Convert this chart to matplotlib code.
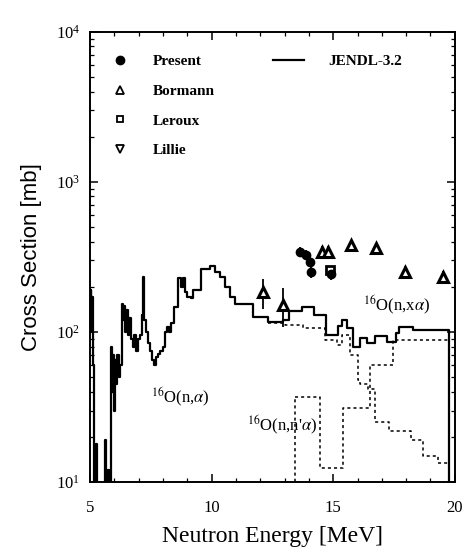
import numpy as np
import matplotlib
matplotlib.use('Agg')
import matplotlib.pyplot as plt
from matplotlib.lines import Line2D
from matplotlib.ticker import LogLocator, MultipleLocator

plt.rcParams['font.family'] = ['Liberation Serif', 'DejaVu Serif']
plt.rcParams['mathtext.fontset'] = 'stix'

# JENDL-3.2 16O(n,x alpha) total, step edges [MeV] and values [mb]
jendl_E = [5.00, 5.03, 5.06, 5.09, 5.12, 5.15, 5.25, 5.30, 5.60, 5.66, 5.75, 5.80,
           5.88, 5.92, 5.96, 6.00, 6.04, 6.08, 6.12, 6.18, 6.22, 6.30, 6.36, 6.40,
           6.45, 6.50, 6.56, 6.62, 6.68, 6.75, 6.82, 6.90, 6.96, 7.05, 7.12, 7.17,
           7.22, 7.30, 7.38, 7.45, 7.55, 7.65, 7.72, 7.80, 7.90, 8.00, 8.08, 8.15,
           8.25, 8.35, 8.45, 8.60, 8.75, 8.82, 8.90, 9.00, 9.15, 9.25, 9.55, 9.95,
           10.15, 10.35, 10.55, 10.75, 10.95, 11.70, 12.30, 12.55, 12.95, 13.20, 13.70,
           14.20, 14.70, 15.20, 15.35, 15.55, 15.80, 16.10, 16.40, 16.70, 17.20,
           17.60, 17.70, 18.30, 19.75]
jendl_v = [150, 190, 100, 170, 60, 5, 18, 5, 19, 5, 12, 5,
           79, 40, 70, 30, 65, 45, 70, 50, 60, 155, 120, 150,
           100, 140, 95, 125, 90, 80, 95, 75, 90, 95, 130, 232,
           120, 100, 85, 75, 65, 60, 68, 72, 75, 80, 100, 108,
           100, 115, 147, 230, 200, 230, 185, 170, 168, 190, 265, 275,
           250, 232, 200, 170, 155, 126, 117, 117, 120, 138, 147,
           130, 96, 110, 120, 106, 80, 92, 84, 94, 86,
           98, 108, 104, 1]

# 16O(n,alpha0) partial
na_E = [12.30, 13.00, 13.75, 14.65, 15.15, 15.35, 15.70, 16.00, 16.10, 16.45,
        16.70, 17.30, 18.20, 18.70, 19.30, 19.75]
na_v = [115, 112, 106, 88, 82, 95, 70, 48, 45, 42, 25, 22, 19, 15, 13.4, 1]

# 16O(n,n' alpha) partial
nna_E = [13.45, 14.45, 15.40, 16.50, 17.45, 19.75]
nna_v = [37, 12.4, 31, 60, 88, 1]

# experimental data
present_E = [13.63, 13.90, 14.04, 14.07, 14.93]
present_v = [343, 325, 293, 252, 243]
present_err = [25, 25, 22, 22, 20]

bormann_E = [12.12, 12.93, 14.52, 14.79, 15.75, 16.78, 17.95, 19.52]
bormann_v = [185, 152, 343, 343, 380, 363, 252, 233]
bormann_err = [42, 44, 30, 30, 32, 32, 25, 24]

leroux_E = [14.86]
leroux_v = [259]

lillie_E = []
lillie_v = []

fig = plt.figure(figsize=(4.66, 5.48), dpi=100)
ax = fig.add_axes([0.193, 0.120, 0.783, 0.822])

ax.step(jendl_E, jendl_v, where='post', color='black', lw=1.6)
ax.step(na_E, na_v, where='post', color='black', lw=1.1, ls=(0, (2, 2)))
ax.step(nna_E, nna_v, where='post', color='black', lw=1.1, ls=(0, (2, 2)))
# vertical closing edge at 13.45
ax.vlines(nna_E[0], 1, nna_v[0], color='black', lw=1.1, ls=(0, (2, 2)))

ax.errorbar(bormann_E, bormann_v, yerr=bormann_err, fmt='^', color='black',
            mfc='white', mec='black', ms=7, mew=2.2, elinewidth=1.3, capsize=0)
ax.errorbar(present_E, present_v, yerr=present_err, fmt='o', color='black',
            ms=6, elinewidth=1.3, capsize=0)
ax.plot(leroux_E, leroux_v, 's', mfc='white', mec='black', ms=6, mew=2.0)
ax.plot(lillie_E, lillie_v, 'v', mfc='white', mec='black', ms=6, mew=1.2)

ax.set_yscale('log')
ax.set_xlim(5, 20)
ax.set_ylim(10, 1e4)
ax.xaxis.set_major_locator(MultipleLocator(5))
ax.xaxis.set_minor_locator(MultipleLocator(1))
ax.yaxis.set_major_locator(LogLocator(base=10, numticks=10))
ax.yaxis.set_minor_locator(LogLocator(base=10, subs=np.arange(2, 10), numticks=20))
ax.tick_params(which='both', direction='in', top=True, right=True, labelsize=12)
ax.tick_params(which='major', length=6, width=1.1)
ax.tick_params(which='minor', length=3, width=0.9)
ax.tick_params(axis='x', which='major', pad=13)
ax.tick_params(axis='y', which='major', pad=7)
for s in ax.spines.values():
    s.set_linewidth(1.4)

ax.set_xlabel('Neutron Energy [MeV]', fontsize=17, labelpad=7)
ax.set_ylabel('Cross Section [mb]', fontsize=16, family='Liberation Sans', labelpad=10)

ax.text(17.6, 151, r"$^{16}$O(n,x$\alpha$)", fontsize=12, ha='center', va='center')
ax.text(8.7, 37, r"$^{16}$O(n,$\alpha$)", fontsize=12, ha='center', va='center')
ax.text(12.9, 24, r"$^{16}$O(n,n'$\alpha$)", fontsize=12, ha='center', va='center')

h_marks = [Line2D([], [], ls='none', marker='o', color='black', ms=6),
           Line2D([], [], ls='none', marker='^', mfc='white', mec='black', ms=6, mew=1.3),
           Line2D([], [], ls='none', marker='s', mfc='white', mec='black', ms=5, mew=1.3),
           Line2D([], [], ls='none', marker='v', mfc='white', mec='black', ms=6, mew=1.3)]
leg1 = ax.legend(h_marks, ['Present', 'Bormann', 'Leroux', 'Lillie'], loc='upper left',
                 bbox_to_anchor=(0.01, 0.98), frameon=False,
                 handlelength=1.6, handletextpad=1.4, labelspacing=1.05,
                 prop={'weight': 'bold', 'size': 11})
ax.add_artist(leg1)
h_line = [Line2D([], [], color='black', lw=1.6)]
ax.legend(h_line, ['JENDL-3.2'], loc='upper left', bbox_to_anchor=(0.465, 0.98),
          frameon=False, handlelength=2.0, handletextpad=1.6,
          prop={'weight': 'bold', 'size': 11})

fig.savefig('out.png', dpi=100)
